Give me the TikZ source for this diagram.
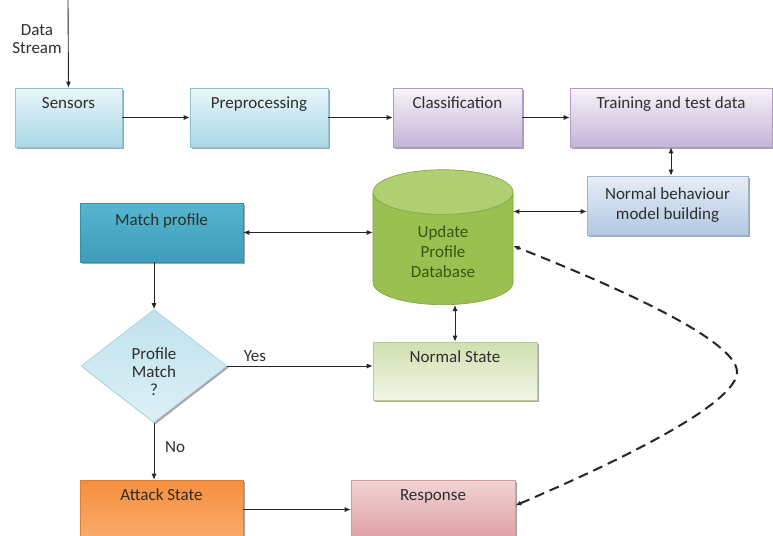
\documentclass[tikz,border=0pt]{standalone}
\usepackage{fontspec}
\setmainfont{Carlito}
\usetikzlibrary{shapes.geometric,arrows.meta,shadows}
\definecolor{txt}{HTML}{2E2E2E}
\definecolor{cyT}{HTML}{EAF6FA}\definecolor{cyB}{HTML}{A9D7E5}\definecolor{cyD}{HTML}{93C3D2}
\definecolor{puT}{HTML}{F7F3FA}\definecolor{puB}{HTML}{C4B4D8}\definecolor{puD}{HTML}{AE9CC6}
\definecolor{nbT}{HTML}{E6EEF7}\definecolor{nbB}{HTML}{B2C7E2}\definecolor{nbD}{HTML}{9CB3D3}
\definecolor{gnT}{HTML}{D0E0AF}\definecolor{gnB}{HTML}{F1F6E6}\definecolor{gnD}{HTML}{B8CD91}
\definecolor{mpT}{HTML}{56B5CF}\definecolor{mpB}{HTML}{3C9DB8}\definecolor{mpD}{HTML}{3690A9}
\definecolor{diT}{HTML}{BFE2ED}\definecolor{diB}{HTML}{DDF0F6}\definecolor{diD}{HTML}{A3CFDD}
\definecolor{atT}{HTML}{F58F3E}\definecolor{atB}{HTML}{F9AC6C}\definecolor{atD}{HTML}{E07F30}
\definecolor{reT}{HTML}{F1D3D4}\definecolor{reB}{HTML}{E0A0A4}\definecolor{reD}{HTML}{D4999C}
\definecolor{dbBody}{HTML}{99C050}\definecolor{dbEnd}{HTML}{B0CF72}\definecolor{dbD}{HTML}{7DA23A}
\definecolor{dbTxt}{HTML}{3A5610}
\begin{document}
\begin{tikzpicture}[x=1pt,y=-1pt,
  every node/.style={font=\fontsize{17}{20}\selectfont, text=txt},
  shade/.style={drop shadow={shadow xshift=1.6pt, shadow yshift=-1.6pt, opacity=0.35, fill=black}},
  topbox/.style={rectangle, draw=#1, line width=0.6pt, inner xsep=2pt, inner ysep=0pt,
    text height=20.5pt, text depth=38.5pt, shade},
  ctrbox/.style={rectangle, draw=#1, line width=0.6pt, align=center, minimum height=59pt, shade},
  arr/.style={draw=black!85, line width=0.9pt, -{Latex[length=6pt,width=5pt]}},
  darr/.style={draw=black!85, line width=0.9pt, {Latex[length=6pt,width=5pt]}-{Latex[length=6pt,width=5pt]}},
  dasharr/.style={draw=black!85, line width=2pt, dash pattern=on 10pt off 6pt,
    {Latex[length=6pt,width=5pt]}-{Latex[length=6pt,width=5pt]}},
  lbl/.style={inner sep=0pt}
]
\useasboundingbox (0,0) rectangle (773,535);

% top row
\node[topbox=cyD, top color=cyT, bottom color=cyB, minimum width=107pt] (sen) at (68.5,117.5) {Sensors};
\node[topbox=cyD, top color=cyT, bottom color=cyB, minimum width=138pt] (pre) at (259,117.5) {Preprocessing};
\node[topbox=puD, top color=puT, bottom color=puB, minimum width=129pt] (cla) at (457.5,117.5) {Classification};
\node[topbox=puD, top color=puT, bottom color=puB, minimum width=202pt] (tra) at (671,117.5) {Training and test data};

\coordinate (ds) at (68,0);
\node[lbl, align=center, font=\fontsize{17}{18}\selectfont] (dstxt) at (37,39) {Data\\Stream};

% second level
\node[ctrbox=nbD, top color=nbT, bottom color=nbB, minimum width=161pt] (nb) at (667.5,205.5) {Normal behaviour\\model building};
\node[cylinder, shape border rotate=90, aspect=0.63, minimum width=140pt, minimum height=135pt,
  cylinder uses custom fill, cylinder body fill=dbBody, cylinder end fill=dbEnd, draw=dbD, line width=0.6pt,
  align=center, text=dbTxt, anchor=south] (db) at (443,305) {Update\\Profile\\Database};
\node[topbox=mpD, top color=mpT, bottom color=mpB, minimum width=163pt, text height=22pt, text depth=37pt] (mp) at (161.5,232.5) {Match profile};

% decision
\node[diamond, draw=diD, line width=0.6pt, top color=diT, bottom color=diB, minimum width=146pt, minimum height=113pt,
  inner sep=0pt, shade,
  label={[align=center, font=\fontsize{17}{18}\selectfont, yshift=-6pt]center:Profile\\Match\\?}] (dia) at (154,366) {};
\node[topbox=gnD, top color=gnT, bottom color=gnB, minimum width=164pt, text height=20pt, text depth=38pt] (ns) at (455,371) {Normal State};

% bottom row
\node[topbox=atD, top color=atT, bottom color=atB, minimum width=163pt] (atk) at (161.5,509.5) {Attack State};
\node[topbox=reD, top color=reT, bottom color=reB, minimum width=164pt] (res) at (433,509.5) {Response};

% connectors
\draw[arr] (ds) -- (sen.north);
\draw[arr] (sen.east) -- (pre.west);
\draw[arr] (pre.east) -- (cla.west);
\draw[arr] (cla.east) -- (tra.west);
\draw[darr] (tra.south) -- (tra.south |- nb.north);
\draw[darr] ([yshift=-6pt]nb.west) -- ([yshift=-6pt]nb.west -| db.east);
\draw[darr] (mp.east) -- (mp.east -| db.west);
\draw[darr] (ns.north) -- (ns.north |- db.south);
\draw[arr] (dia.north |- mp.south) -- (dia.north);
\draw[arr] (dia.east) -- node[lbl, pos=0.19, yshift=10pt] (yes) {Yes} (dia.east -| ns.west);
\draw[arr] (dia.south) -- node[lbl, pos=0.42, xshift=21pt] (no) {No} (dia.south |- atk.north);
\draw[arr] (atk.east) -- (res.west);
\draw[dasharr] ([yshift=4pt]res.east) .. controls (645,450) and (737,400) .. (737,372)
  .. controls (737,345) and (650,300) .. ([yshift=6pt]db.east);
\end{tikzpicture}
\end{document}
